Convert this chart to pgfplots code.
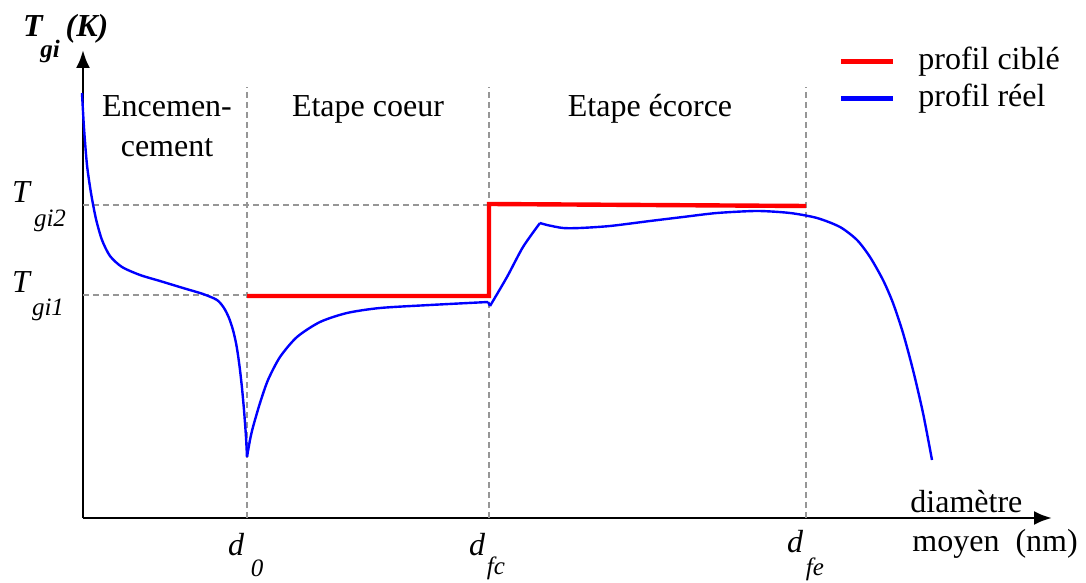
\documentclass[border=0pt]{standalone}
\usepackage{fontspec}
\setmainfont{Liberation Serif}
\usepackage{pgfplots}
\pgfplotsset{compat=1.18}
\usetikzlibrary{arrows.meta}
\newcommand\lf{\fontsize{16}{18}\selectfont}
\newcommand\subf{\fontsize{12.5}{14}\selectfont}
\definecolor{dgray}{RGB}{150,150,150}
\begin{document}
\begin{tikzpicture}
\begin{axis}[
  scale only axis, width=484.5pt, height=234pt,
  xmin=83, xmax=1052, ymin=65, ymax=533,
  axis lines=left,
  axis line style={line width=1.4pt, -{Latex[length=9pt,width=7pt]}},
  xtick=\empty, ytick=\empty,
  clip=false,
  legend style={at={(axis cs:832,542)}, anchor=north west, draw=none, fill=none,
    font=\lf, row sep=2pt, column sep=10.5pt,
    nodes={inner sep=1pt, text height=11pt, text depth=3.5pt}},
  legend cell align=left,
  legend image code/.code={\draw[#1, line width=2.5pt] (0pt,0pt) -- (26pt,0pt);},
]
\coordinate (bbll) at (axis cs:0,0);
\coordinate (bbur) at (axis cs:1086,583);
% legend entries
\addlegendimage{red}
\addlegendentry{profil ciblé}
\addlegendimage{blue}
\addlegendentry{profil réel}
% dashed guides
\addplot[dgray, line width=0.7pt, dash pattern=on 3pt off 2pt, forget plot] coordinates {(247,65) (247,496)};
\addplot[dgray, line width=0.7pt, dash pattern=on 3pt off 2pt, forget plot] coordinates {(489,65) (489,496)};
\addplot[dgray, line width=0.7pt, dash pattern=on 3pt off 2pt, forget plot] coordinates {(806,65) (806,496)};
\addplot[dgray, line width=0.7pt, dash pattern=on 3pt off 2pt, forget plot] coordinates {(83,378) (806,378)};
\addplot[dgray, line width=0.7pt, dash pattern=on 3pt off 2pt, forget plot] coordinates {(83,288) (247,288)};
% target profile
\addplot[red, line width=2.2pt, forget plot] coordinates {(247,287) (489,287) (489,379) (806,377)};
% real profile
\addplot[blue, line width=1.2pt, smooth, tension=0.45, forget plot] coordinates {
(82,490) (84,455) (87,418) (91,390) (96,364) (102,343) (110,327) (122,316) (140,308) (160,302) (183,295) (203,289) (217,283) (224,275) (229,265) (233,253) (236,240) (238,228) (240,213) (242,195) (244,173) (246,146) (247,126)};
\addplot[blue, line width=1.2pt, smooth, tension=0.45, forget plot] coordinates {
(247,126) (250,143) (253,156) (260,180) (268,203) (280,226) (297,246) (320,261) (347,270) (380,275) (430,278) (488,281)};
\addplot[blue, line width=1.2pt, forget plot] coordinates {(488,281) (490,277)};
\addplot[blue, line width=1.2pt, smooth, tension=0.45, forget plot] coordinates {
(490,277) (507,306) (523,336) (540,360)};
\addplot[blue, line width=1.2pt, smooth, tension=0.45, forget plot] coordinates {
(540,360) (547,358) (563,355) (580,355) (610,357) (650,362) (683,366) (717,370) (757,372) (790,370) (817,365) (840,356) (857,343) (870,326) (883,303) (893,280) (903,250) (913,213) (923,170) (932,123)};
% region labels
\node[font=\lf, anchor=base] at (axis cs:167,466) {Encemen-};
\node[font=\lf, anchor=base] at (axis cs:167,426) {cement};
\node[font=\lf, anchor=base] at (axis cs:368,466) {Etape coeur};
\node[font=\lf, anchor=base] at (axis cs:650,466) {Etape écorce};
% y title
\node[font=\lf\bfseries\itshape, anchor=base] at (axis cs:33,546) {T};
\node[font=\subf\bfseries\itshape, anchor=base] at (axis cs:50,525) {gi};
\node[font=\lf\bfseries\itshape, anchor=base] at (axis cs:87,546) {(K)};
% y tick labels
\node[font=\lf\itshape, anchor=base] at (axis cs:21,380) {T};
\node[font=\subf\itshape, anchor=base] at (axis cs:50,356) {gi2};
\node[font=\lf\itshape, anchor=base] at (axis cs:21,290) {T};
\node[font=\subf\itshape, anchor=base] at (axis cs:48,267) {gi1};
% x tick labels
\node[font=\lf\itshape, anchor=base] at (axis cs:236,28) {d};
\node[font=\subf\itshape, anchor=base] at (axis cs:257,7) {0};
\node[font=\lf\itshape, anchor=base] at (axis cs:477,28) {d};
\node[font=\subf\itshape, anchor=base] at (axis cs:496,9) {fc};
\node[font=\lf\itshape, anchor=base] at (axis cs:795,31) {d};
\node[font=\subf\itshape, anchor=base] at (axis cs:815,8) {fe};
% x axis title
\node[font=\lf, anchor=base west, inner sep=0pt] at (axis cs:910,71) {diamètre};
\node[font=\lf, anchor=base west, inner sep=0pt] at (axis cs:912,32) {moyen\ \ (nm)};
\end{axis}
\pgfresetboundingbox
\path[use as bounding box] (bbll) rectangle (bbur);
\end{tikzpicture}
\end{document}
